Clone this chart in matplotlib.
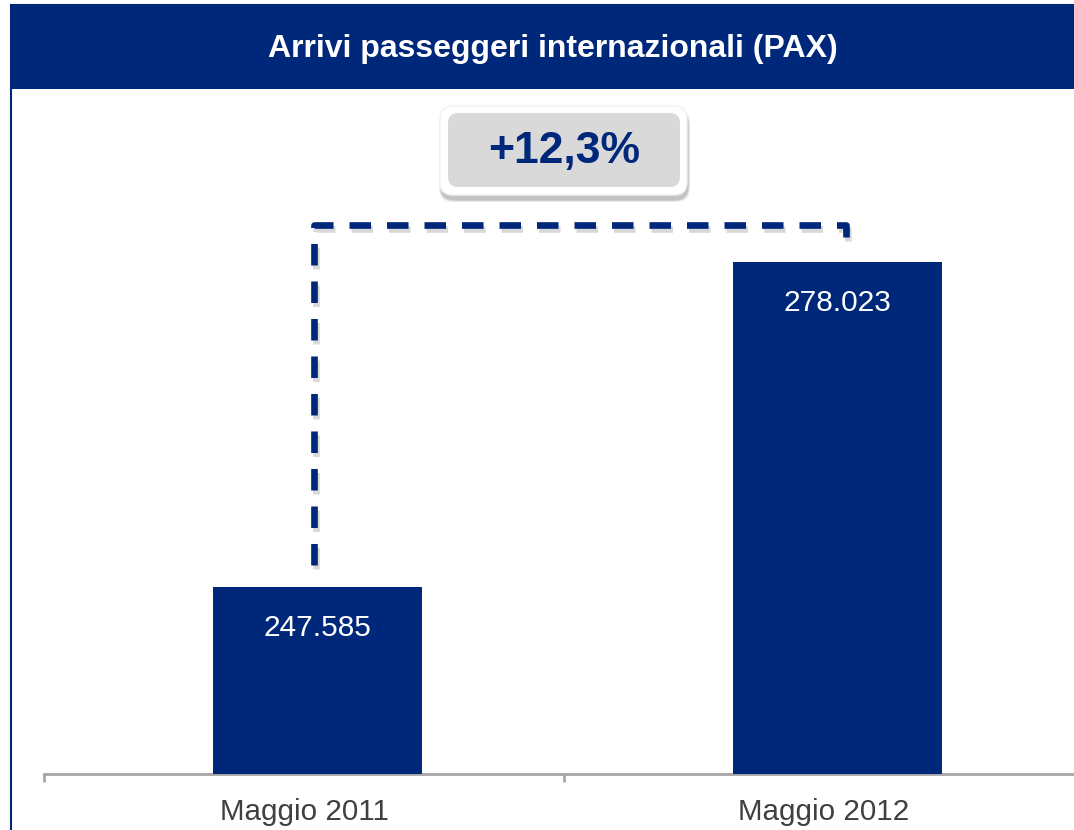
import matplotlib
matplotlib.use("Agg")
import matplotlib.pyplot as plt
import matplotlib.patheffects as pe
from matplotlib.patches import Rectangle, FancyBboxPatch
from matplotlib.transforms import IdentityTransform

#chart data
categories = ['Maggio 2011', 'Maggio 2012']
pax = [247585, 278023]
title = 'Arrivi passeggeri internazionali (PAX)'

#colours
navy = '#00287a'
grid_gray = '#a6a6a6'
label_gray = '#404040'

plt.rcParams['font.family'] = ['Liberation Sans', 'DejaVu Sans']

W, H = 1074, 830
fig = plt.figure(figsize=(W / 100, H / 100), dpi=100)
px = IdentityTransform()

def fy(y):
    """pixel row from the top -> display y"""
    return H - y

#frame and header band
fig.add_artist(Rectangle((10.5, fy(1000)), 1200, 1000 - 5, transform=px,
                         facecolor='white', edgecolor=navy, lw=1.5, zorder=0))
fig.add_artist(Rectangle((10, fy(89)), 1200, 84, transform=px,
                         facecolor=navy, edgecolor='none', zorder=1))
fig.text(553 / W, 1 - 49 / H, title, color='white', fontsize=23,
         fontweight='bold', ha='center', va='center')

#axes (runs slightly past the right edge, like the original)
ax = fig.add_axes([44 / W, (H - 774) / H, 1040 / W, (774 - 90) / H])
ax.set_facecolor('none')
xpos = [i + 0.026 for i in range(len(categories))]
bars = ax.bar(xpos, pax, width=0.402, color=navy, zorder=3)
ax.set_xlim(-0.5, len(categories) - 0.5)
ax.set_ylim(230000, 294200)

for b, v in zip(bars, pax):
    ax.annotate(f'{v:,}'.replace(',', '.'),
                (b.get_x() + b.get_width() / 2, v), xytext=(0, -29.5),
                textcoords='offset points', ha='center', va='center',
                color='white', fontsize=21.5, zorder=4)

#ticks between categories, labels at centres
ax.set_xticks([i - 0.5 for i in range(len(categories) + 1)])
ax.set_xticklabels([])
ax.set_xticks(range(len(categories)), minor=True)
ax.set_xticklabels(categories, minor=True, fontsize=21.3, color=label_gray)
ax.tick_params(axis='x', which='major', length=6, width=2, color=grid_gray)
ax.tick_params(axis='x', which='minor', length=0, pad=17)
ax.set_yticks([])
for s in ['left', 'right', 'top']:
    ax.spines[s].set_visible(False)
ax.spines['bottom'].set_color(grid_gray)
ax.spines['bottom'].set_linewidth(2)

#dashed bracket linking the two bars
top_y = pax[1] + 3500
lx = xpos[0] - 0.006
rx = xpos[1] + 0.017
lw = 4.8
ax.plot([lx, lx, rx, rx], [pax[0] + 2000, top_y, top_y, pax[1] + 1250],
        color=navy, lw=lw, linestyle=(0, (15.5 / lw, 11.5 / lw)),
        solid_capstyle='butt', dash_capstyle='butt', zorder=5,
        path_effects=[pe.SimpleLineShadow(offset=(1.5, -2.5), shadow_color='gray', alpha=0.3),
                      pe.Normal()])

#growth badge with a soft shadow
growth = (pax[1] / pax[0] - 1) * 100
for grow, a in [(4, 0.12), (2.5, 0.18), (1, 0.25)]:
    fig.add_artist(FancyBboxPatch((441 - grow / 2, fy(200 + grow / 2)), 247 + grow, 89 + grow,
                                  transform=px, boxstyle='round,pad=0,rounding_size=14',
                                  facecolor='#808080', edgecolor='none', alpha=a, zorder=6))
fig.add_artist(FancyBboxPatch((440, fy(195)), 247, 89, transform=px,
                              boxstyle='round,pad=0,rounding_size=13',
                              facecolor='white', edgecolor='#f2f2f2', lw=1, zorder=7))
fig.add_artist(FancyBboxPatch((448, fy(187)), 232, 74, transform=px,
                              boxstyle='round,pad=0,rounding_size=10',
                              facecolor='#d9d9d9', edgecolor='none', zorder=8))
fig.text(564 / W, 1 - 152 / H, f'+{growth:.1f}%'.replace('.', ','), color=navy,
         fontsize=32, fontweight='bold', ha='center', va='center', zorder=9)

fig.savefig('out.png', dpi=100)
